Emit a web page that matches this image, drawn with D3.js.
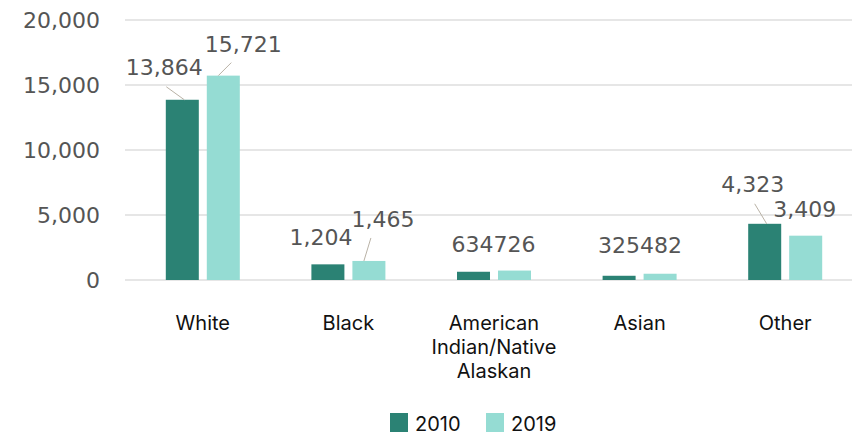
<!DOCTYPE html>
<html>
<head>
<meta charset="utf-8">
<script src="https://cdn.jsdelivr.net/npm/d3@7"></script>
<style>
  html, body { margin: 0; padding: 0; background: #fff; }
  svg { display: block; }
</style>
</head>
<body>
<svg id="chart" width="852" height="435"></svg>
<script>
// ---- Data ----
const categories = ["White", "Black", "American Indian/Native Alaskan", "Asian", "Other"];
const categoryLines = [["White"], ["Black"], ["American", "Indian/Native", "Alaskan"], ["Asian"], ["Other"]];
const seriesNames = ["2010", "2019"];
const values2010 = [13864, 1204, 634, 325, 4323];
const values2019 = [15721, 1465, 726, 482, 3409];
const yTicks = [0, 5000, 10000, 15000, 20000];

// ---- Layout / style config (label placement offsets relative to bar top-center) ----
const labelOffsets2010 = [[-18, -25, true], [-7, -19, false], [-1, -20, false], [0, -23, false], [-12, -32, true]];
const labelOffsets2019 = [[20, -24, true], [14, -34, true], [0, -19, false], [1, -21, false], [-1, -19, false]];
const colors = ["#2b8274", "#95dcd3"];

const svg = d3.select("#chart");
const y = d3.scaleLinear().domain([0, 20000]).range([280, 20]);
const x0 = d3.scaleBand().domain(categories).range([130, 858]).paddingInner(0).paddingOuter(0);
const x1 = d3.scaleBand().domain(seriesNames).range([x0.bandwidth()/2 - 37, x0.bandwidth()/2 + 37]).paddingInner(0.195).paddingOuter(0);

// gridlines
svg.append("g").selectAll("line").data(yTicks).join("line")
  .attr("x1", 125).attr("x2", 852)
  .attr("y1", d => y(d)).attr("y2", d => y(d))
  .attr("stroke", "#e6e6e6").attr("stroke-width", 2);

// y axis
const yAxis = d3.axisLeft(y).tickValues(yTicks).tickFormat(d3.format(",")).tickSize(0).tickPadding(0);
const gy = svg.append("g").attr("transform", "translate(100,0)").call(yAxis);
gy.select(".domain").remove();
gy.selectAll("text")
  .attr("font-family", "DejaVu Sans, sans-serif")
  .attr("font-size", 22)
  .attr("fill", "#555")
  .attr("dy", "0.36em");

const series = [values2010, values2019];
const offsets = [labelOffsets2010, labelOffsets2019];

const groups = svg.append("g").selectAll("g").data(categories).join("g")
  .attr("transform", d => `translate(${x0(d)},0)`);

seriesNames.forEach((s, si) => {
  groups.append("rect")
    .attr("x", x1(s))
    .attr("width", x1.bandwidth())
    .attr("y", (d, i) => y(series[si][i]))
    .attr("height", (d, i) => y(0) - y(series[si][i]))
    .attr("fill", colors[si]);
});

// labels with leader lines
seriesNames.forEach((s, si) => {
  groups.each(function(d, i) {
    const g = d3.select(this);
    const v = series[si][i];
    const cx = x1(s) + x1.bandwidth() / 2;
    const top = y(v);
    const [dx, dy, leader] = offsets[si][i];
    const tx = cx + dx, ty = top + dy;
    if (leader) {
      g.append("line")
        .attr("x1", dx < 0 ? tx + 2 : tx - 12).attr("y1", ty + (dx < 0 ? 12 : 11))
        .attr("x2", dx < 0 ? cx + 2 : cx - 5).attr("y2", top)
        .attr("stroke", "#b9b2a6").attr("stroke-width", 1);
    }
    g.append("text")
      .attr("x", tx).attr("y", ty)
      .attr("text-anchor", "middle")
      .attr("font-family", "DejaVu Sans, sans-serif")
      .attr("font-size", 22)
      .attr("fill", "#555")
      .text(d3.format(",")(v));
  });
});

// category labels
groups.each(function(d, i) {
  const t = d3.select(this).append("text")
    .attr("x", x0.bandwidth() / 2)
    .attr("y", 330)
    .attr("text-anchor", "middle")
    .attr("font-family", "Inter, sans-serif")
    .attr("font-size", 20)
    .attr("fill", "#111");
  categoryLines[i].forEach((line, li) => {
    t.append("tspan").attr("x", x0.bandwidth() / 2).attr("dy", li === 0 ? 0 : 24).text(line);
  });
});

// legend
const legend = svg.append("g");
const legendX = [390, 486];
seriesNames.forEach((s, si) => {
  legend.append("rect").attr("x", legendX[si]).attr("y", 413).attr("width", 18).attr("height", 19).attr("fill", colors[si]);
  legend.append("text").attr("x", legendX[si] + 25).attr("y", 431)
    .attr("font-family", "Inter, sans-serif").attr("font-size", 20).attr("fill", "#111").text(s);
});
</script>
</body>
</html>
